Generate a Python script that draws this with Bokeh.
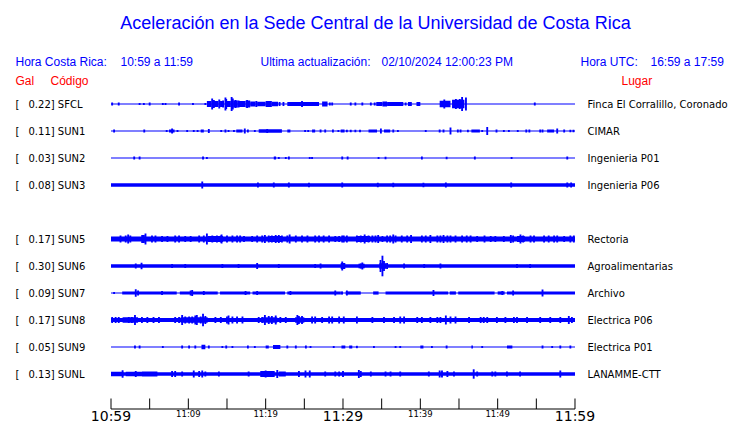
from bokeh.plotting import figure
from bokeh.models import Range1d, ColumnDataSource
from bokeh.core.properties import value
from bokeh.embed import file_html
from bokeh.resources import INLINE

# ---------------- data ----------------
TITLE = "Aceleración en la Sede Central de la Universidad de Costa Rica"
LOCAL_WINDOW = "10:59 a 11:59"
UTC_WINDOW = "16:59 a 17:59"
UPDATED = "02/10/2024 12:00:23 PM"

STATIONS = ["SFCL", "SUN1", "SUN2", "SUN3", "SUN5", "SUN6", "SUN7", "SUN8", "SUN9", "SUNL"]
GAL = ["0.22", "0.11", "0.03", "0.08", "0.17", "0.30", "0.09", "0.17", "0.05", "0.13"]
PLACES = ["Finca El Corralillo, Coronado", "CIMAR", "Ingenieria P01", "Ingenieria P06",
          "Rectoria", "Agroalimentarias", "Archivo", "Electrica P06", "Electrica P01", "LANAMME-CTT"]
ROWS = [0, 1, 2, 3, 5, 6, 7, 8, 9, 10]
# half-thickness of the continuous noise band of each trace
BASE = [0.5, 0.5, 0.5, 1.7, 2.4, 1.7, 0.5, 2.0, 0.5, 1.8]

# minutes after 10:59
TICK_MIN = [0, 5, 10, 15, 20, 25, 30, 35, 40, 45, 50, 55, 60]
TICK_LABELS = ["10:59", "", "11:09", "", "11:19", "", "11:29", "", "11:39", "", "11:49", "", "11:59"]
TICK_BIG = [True, False, False, False, False, False, True, False, False, False, False, False, True]

# blocks: (start min, end min, half amplitude); spikes: (min, half amplitude)
BLOCKS_SFCL = [(12.4, 13.0, 3), (13.3, 13.9, 3), (14.1, 14.6, 3), (14.9, 15.5, 3), (15.8, 16.4, 3.5),
               (16.5, 17.4, 3), (17.4, 18.0, 3.5), (18.0, 18.7, 2.5), (18.9, 20.0, 2.2), (20.0, 20.8, 3),
               (20.8, 21.6, 2.2), (22.8, 26.9, 2.0), (27.3, 28.0, 2.5), (34.3, 35.1, 2), (35.1, 35.7, 2.5),
               (35.7, 37.8, 2), (38.4, 38.9, 2), (39.5, 40.0, 2), (42.5, 43.9, 3.3), (44.1, 45.7, 4.2)]
SPIKES_SFCL = [(0.15, 1.5), (1.0, 1.5), (3.7, 1), (4.25, 1), (5.0, 1.5), (6.7, 1), (7.05, 1), (8.8, 1.5),
               (10.6, 1), (12.2, 1), (13.08, 5.5), (13.3, 4), (14.0, 4.5), (14.5, 3.5), (14.8, 6.5),
               (14.9, 5), (15.6, 7), (15.75, 5.5), (16.1, 4), (16.5, 3.5), (17.6, 4), (18.8, 3),
               (21.8, 2), (22.3, 2), (24.7, 3), (28.3, 1.5), (28.6, 1.5), (31.0, 1.5), (31.6, 1.5),
               (32.5, 1.5), (33.6, 1.5), (34.1, 1.5), (38.1, 1.5), (43.1, 4.5), (44.6, 5), (45.1, 5),
               (45.4, 7), (45.9, 6.5), (54.8, 1.5)]

BLOCKS_SUN1 = [(7.5, 7.9, 1.5), (11.6, 12.0, 1.5), (16.2, 17.0, 1.5), (19.1, 22.1, 1.7), (22.8, 23.2, 1.5),
               (26.0, 26.4, 1.5), (29.7, 30.2, 1.5), (33.3, 34.4, 1.5), (35.3, 36.1, 1.5),
               (46.6, 47.7, 1.5), (56.4, 57.3, 1.5)]
SPIKES_SUN1 = [(0.4, 1.5), (4.3, 1.5), (7.2, 1), (7.9, 2.5), (8.1, 1.5), (8.6, 1), (9.85, 1), (10.7, 1),
               (11.2, 1), (12.65, 2), (14.25, 1), (14.8, 1.5), (15.2, 1), (15.9, 1), (17.3, 2.5),
               (17.7, 1.5), (18.6, 1), (20.2, 2), (25.1, 1), (25.5, 1), (27.1, 1.5), (27.7, 1.5),
               (28.7, 1.5), (29.4, 1), (30.5, 1.2), (31.0, 1.2), (31.6, 1.2), (32.2, 1.2), (34.9, 2.5),
               (36.5, 1.5), (37.1, 1), (40.7, 1), (42.5, 1.5), (43.0, 1.5), (43.9, 3.5), (44.85, 1.5),
               (45.2, 1.5), (46.15, 1.2), (48.0, 1), (48.65, 4), (49.85, 1.5), (50.8, 1), (51.45, 1),
               (52.6, 1), (53.7, 1.5), (54.1, 1.5), (55.5, 1.5), (55.8, 1.5), (57.7, 2.5), (58.6, 1.5),
               (59.4, 1.2), (59.8, 1.2)]

BLOCKS_SUN2 = [(21.05, 21.35, 1.5)]
SPIKES_SUN2 = [(3.0, 1.5), (3.7, 1.5), (11.9, 1.5), (12.4, 1), (21.7, 1), (22.6, 1), (23.0, 1.5),
               (25.7, 1), (26.0, 1), (29.9, 1.5), (30.6, 1.5), (34.6, 1), (35.5, 1.2), (40.2, 1.5),
               (43.4, 1.2), (47.05, 1.5), (51.8, 1), (59.0, 1.5)]

BLOCKS_SUN3 = []
SPIKES_SUN3 = [(11.8, 3.5), (19.0, 2.5), (21.05, 2.5), (23.0, 2.5), (25.6, 2.3), (29.9, 2.5), (34.5, 2.3),
               (36.5, 2.3), (40.4, 2.3), (43.3, 2.5), (51.75, 2.5), (59.0, 2.5), (59.5, 2.5)]

BLOCKS_SUN5 = [(12.5, 14.5, 3.0), (20.5, 22.0, 3.0), (31.8, 33.5, 3.0), (52.5, 53.5, 3.0)]
SPIKES_SUN5 = [(1.23, 3.5), (1.9, 3.5), (2.22, 4.5), (2.5, 3.5), (4.03, 4), (4.25, 4), (4.46, 5.5),
               (5.3, 3.5), (5.75, 3.5), (6.6, 3), (7.3, 3), (8.3, 3.5), (8.8, 3.5), (9.6, 3), (10.3, 3),
               (11.4, 3.5), (12.0, 3.5), (12.4, 5.5), (13.1, 3.5), (13.7, 3.5), (14.2, 3.5), (14.3, 4.5),
               (15.0, 3.5), (15.7, 3.5), (16.3, 3.5), (16.7, 3.5), (17.2, 3), (18.25, 3), (18.9, 3.5),
               (19.55, 3.5), (19.9, 4), (20.4, 3.5), (20.8, 3.5), (21.3, 4), (21.7, 4), (22.1, 3.5),
               (22.8, 3.5), (23.1, 4.5), (23.9, 3.5), (24.7, 3.5), (25.4, 3.5), (26.4, 3.5), (26.9, 3.5),
               (27.5, 3.5), (28.2, 3.5), (29.0, 3), (29.5, 3), (29.9, 3.5), (30.1, 3.5), (30.5, 3.5),
               (31.8, 3.5), (32.3, 3.5), (32.8, 4.5), (33.3, 3.5), (33.8, 3.5), (34.2, 3.5), (34.55, 4),
               (35.1, 3), (35.7, 3.5), (36.1, 3.5), (36.5, 4.5), (36.8, 3.5), (37.6, 3.5), (38.3, 3.5),
               (38.8, 4), (40.2, 3.5), (40.7, 3.5), (41.3, 4), (42.2, 3.5), (42.6, 3.5), (43.0, 4),
               (43.5, 3.5), (43.9, 3.5), (44.55, 3.5), (45.4, 3.5), (46.0, 3.5), (46.5, 3.5), (47.35, 3),
               (48.3, 3.5), (49.1, 3), (49.7, 3), (50.8, 3), (51.7, 4), (52.0, 3.5), (52.95, 4.5),
               (53.3, 3.5), (54.25, 3.5), (54.7, 3.5), (56.0, 3.5), (56.6, 3.5), (57.3, 3.5), (57.7, 3.5),
               (58.6, 3), (59.4, 3.5), (59.85, 3.5)]

BLOCKS_SUN6 = [(29.7, 30.3, 3), (32.0, 32.8, 2.3), (34.7, 35.6, 2.8)]
SPIKES_SUN6 = [(3.2, 2.5), (3.95, 3.3), (7.9, 2), (9.6, 2), (14.4, 2), (16.5, 2), (18.9, 3), (21.7, 2),
               (26.4, 2), (27.1, 2.5), (29.9, 4.5), (32.3, 2.5), (32.5, 3.5), (34.85, 6), (35.1, 10.3),
               (35.3, 5), (35.7, 3), (37.9, 2.5), (40.5, 2), (42.6, 2.5), (52.5, 2), (54.2, 2)]

BLOCKS_SUN7 = [(1.45, 8.5, 1.6), (8.9, 13.8, 1.6), (14.1, 18.0, 1.6), (18.3, 22.5, 1.6), (22.8, 29.7, 1.6),
               (29.7, 30.0, 1.6), (30.35, 32.3, 1.6), (33.9, 34.6, 1.6), (35.5, 43.6, 1.6),
               (43.8, 44.6, 1.6), (44.9, 49.6, 1.6), (50.0, 50.9, 1.6), (51.2, 60.0, 1.6)]
SPIKES_SUN7 = [(0.4, 1), (3.2, 3.7), (3.5, 2.5), (6.6, 2), (10.3, 2.5), (10.5, 3), (12.0, 2), (17.4, 2),
               (18.9, 2), (23.2, 2), (29.0, 2.5), (30.5, 2.5), (41.7, 3), (50.6, 2), (52.0, 2.5),
               (55.8, 3.5)]

BLOCKS_SUN8 = [(1.5, 3.5, 2.7), (9.0, 12.5, 2.7), (19.5, 21.5, 2.7), (23.8, 25.0, 2.7)]
SPIKES_SUN8 = [(0.15, 3), (0.6, 3), (1.0, 3), (2.3, 3), (2.7, 3), (3.1, 5), (4.0, 3), (4.7, 3), (5.5, 3),
               (6.2, 3), (8.3, 3), (8.8, 3), (9.2, 5), (9.6, 3.5), (10.1, 3.5), (10.5, 3.5), (10.9, 4.5),
               (11.1, 5), (11.6, 3.5), (11.9, 6.3), (12.2, 4), (13.5, 3), (14.2, 3), (15.0, 3.5),
               (15.2, 4.5), (15.7, 3.5), (16.3, 3.5), (17.0, 3.5), (19.1, 3), (19.55, 3), (19.9, 5),
               (20.4, 4), (20.8, 4), (21.3, 4.5), (21.9, 3), (22.6, 3), (24.1, 5), (24.3, 4), (24.7, 4),
               (26.0, 3.5), (26.4, 3.5), (27.3, 3), (28.2, 3.5), (28.6, 3.5), (29.5, 3.5), (30.1, 3.5),
               (31.8, 3.5), (33.8, 3), (35.3, 3), (36.6, 3), (37.4, 3.5), (37.9, 3.5), (39.6, 3),
               (40.2, 3), (41.3, 3), (42.2, 3), (42.6, 3), (43.3, 4.5), (43.9, 3.5), (44.55, 3.5),
               (46.3, 3), (47.8, 3), (48.2, 3), (48.65, 3), (49.9, 3), (51.0, 3), (52.1, 3), (52.5, 3),
               (53.8, 3), (55.5, 3), (56.8, 3), (58.1, 3), (59.2, 4), (59.6, 3)]

BLOCKS_SUN9 = [(11.7, 12.2, 2.2), (20.0, 20.4, 1.5), (20.95, 21.9, 2), (29.8, 30.3, 1.5), (30.8, 31.2, 1.5),
               (40.0, 40.4, 1.5), (46.6, 46.8, 1.5), (51.2, 51.9, 1.5)]
SPIKES_SUN9 = [(3.1, 1.5), (3.7, 1.5), (6.7, 1), (9.2, 1.5), (10.1, 1.5), (10.9, 1.5), (12.65, 1.5),
               (14.4, 1), (14.9, 1.5), (15.7, 1), (17.7, 1.5), (18.6, 1), (22.8, 1.5), (23.9, 1.5),
               (25.2, 1.5), (25.8, 1), (28.8, 1), (31.8, 1.2), (34.0, 1), (36.8, 1), (37.4, 1), (41.5, 1),
               (43.4, 1.5), (48.0, 1), (55.8, 1.5), (57.05, 1), (58.1, 1.5), (59.4, 1.5)]

BLOCKS_SUNL = [(0.0, 1.6, 2.2), (1.9, 4.0, 2.2), (4.0, 6.0, 2.5), (19.3, 21.0, 3), (21.7, 22.6, 2.5)]
SPIKES_SUNL = [(1.5, 3.8), (3.2, 3), (7.9, 3), (8.3, 3), (9.2, 2.5), (10.7, 3.5), (11.4, 3), (11.8, 3.5),
               (12.2, 2.5), (13.95, 2.5), (17.8, 2.5), (20.0, 3.5), (21.05, 3), (21.5, 4), (24.3, 3),
               (25.15, 3.5), (25.7, 3.5), (27.7, 2.5), (29.0, 2.5), (29.5, 2.5), (30.0, 3), (32.05, 4),
               (32.3, 3), (33.6, 2.5), (35.5, 2.5), (36.15, 2.5), (37.4, 2.5), (41.1, 2.5), (42.5, 3.5),
               (42.8, 3.5), (43.5, 3), (44.35, 2.5), (46.9, 4.7), (47.35, 2.5), (49.3, 2.5), (49.7, 2.5),
               (51.2, 2.5), (52.9, 2.5), (58.1, 3.5)]

BLOCKS = [BLOCKS_SFCL, BLOCKS_SUN1, BLOCKS_SUN2, BLOCKS_SUN3, BLOCKS_SUN5,
          BLOCKS_SUN6, BLOCKS_SUN7, BLOCKS_SUN8, BLOCKS_SUN9, BLOCKS_SUNL]
SPIKES = [SPIKES_SFCL, SPIKES_SUN1, SPIKES_SUN2, SPIKES_SUN3, SPIKES_SUN5,
          SPIKES_SUN6, SPIKES_SUN7, SPIKES_SUN8, SPIKES_SUN9, SPIKES_SUNL]

# ---------------- layout / style ----------------
W, H = 740, 423
ORIGIN = 0                               # page offset of the figure's top-left corner
T0_PX, PX_PER_MIN = 110.5, 7.7333      # where minute 0 sits and scale, in page pixels
ROW0_PX, ROW_STEP = 103.5, 27
SPIKE_W = 0.24
BLUE = "#0000ff"
RED = "#ff0000"
TRACE = "#0000ff"


def X(px):
    return (px - T0_PX) / PX_PER_MIN


def Y(py):
    return ROW0_PX - py


p = figure(width=W, height=H, output_backend="svg", toolbar_location=None,
           x_range=Range1d(X(ORIGIN), X(ORIGIN + W)), y_range=Range1d(Y(ORIGIN + H), Y(ORIGIN)),
           min_border=0, x_axis_location=None, y_axis_location=None)
p.grid.visible = False
p.outline_line_color = None
p.background_fill_color = "white"
p.border_fill_color = "white"

# ---------------- traces ----------------
L, R, T, B = [], [], [], []
for i, row in enumerate(ROWS):
    yc = -ROW_STEP * row
    L.append(TICK_MIN[0]); R.append(TICK_MIN[-1]); T.append(yc + BASE[i]); B.append(yc - BASE[i])
    for (a, b, h) in BLOCKS[i]:
        L.append(a); R.append(b); T.append(yc + h); B.append(yc - h)
    for (t, h) in SPIKES[i]:
        L.append(t - SPIKE_W / 2); R.append(t + SPIKE_W / 2); T.append(yc + h); B.append(yc - h)
p.quad(left="left", right="right", top="top", bottom="bottom",
       source=ColumnDataSource(dict(left=L, right=R, top=T, bottom=B)),
       fill_color=TRACE, line_color=None)

# ---------------- time axis ----------------
axis_y = Y(408.5)
p.segment(x0=[TICK_MIN[0]], y0=[axis_y], x1=[TICK_MIN[-1]], y1=[axis_y], line_color="black", line_width=1)
p.segment(x0=TICK_MIN, y0=[axis_y] * len(TICK_MIN), x1=TICK_MIN, y1=[axis_y + 10.5] * len(TICK_MIN),
          line_color="black", line_width=1)
big = [k for k in range(len(TICK_MIN)) if TICK_BIG[k]]
small = [k for k in range(len(TICK_MIN)) if not TICK_BIG[k] and TICK_LABELS[k]]
p.text(x=[TICK_MIN[k] for k in big], y=[Y(415.5)] * len(big), text=[TICK_LABELS[k] for k in big],
       text_font=value("DejaVu Sans"), text_font_size="14px", text_align="center",
       text_baseline="middle", text_color="black")
p.text(x=[TICK_MIN[k] for k in small], y=[Y(413.5)] * len(small), text=[TICK_LABELS[k] for k in small],
       text_font=value("DejaVu Sans"), text_font_size="8.5px", text_align="center",
       text_baseline="middle", text_color="black")

# ---------------- station labels ----------------
ys = [-ROW_STEP * r for r in ROWS]
p.text(x=[X(15)] * len(ROWS), y=ys, text=["["] * len(ROWS), text_font=value("DejaVu Sans"),
       text_font_size="10px", text_baseline="middle", text_color="black")
p.text(x=[X(28)] * len(ROWS), y=ys, text=[f"{g}] {s}" for g, s in zip(GAL, STATIONS)],
       text_font=value("DejaVu Sans"), text_font_size="10px", text_baseline="middle", text_color="black")
p.text(x=[X(587)] * len(ROWS), y=ys, text=PLACES, text_font=value("DejaVu Sans"),
       text_font_size="10px", text_baseline="middle", text_color="black")

# ---------------- headers ----------------
def label(px, py, txt, color, size, align="left"):
    p.text(x=[X(px)], y=[Y(py)], text=[txt], text_font=value("Liberation Sans"), text_font_size=size,
           text_align=align, text_baseline="middle", text_color=color)


label(375, 22, TITLE, BLUE, "18px", "center")
label(15, 61, "Hora Costa Rica:", BLUE, "12px")
label(120, 61, LOCAL_WINDOW, BLUE, "12px")
label(260, 61, "Ultima actualización:", BLUE, "12px")
label(381, 61, UPDATED, BLUE, "12px")
label(580, 61, "Hora UTC:", BLUE, "12px")
label(650, 61, UTC_WINDOW, BLUE, "12px")
label(15, 80, "Gal", RED, "12px")
label(50, 80, "Código", RED, "12px")
label(621, 80, "Lugar", RED, "12px")

open("out.html", "w").write(file_html(p, INLINE))
